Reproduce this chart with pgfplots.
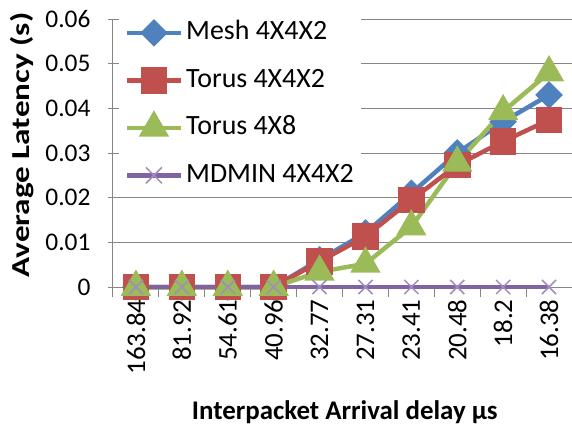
\documentclass[border=0pt]{standalone}
\usepackage{fontspec}
\setmainfont{Carlito}
\usepackage{pgfplots}
\pgfplotsset{compat=1.18}
\definecolor{sblue}{HTML}{4F81BD}
\definecolor{sred}{HTML}{C0504D}
\definecolor{sgreen}{HTML}{9BBB59}
\definecolor{spurple}{HTML}{8064A2}
\definecolor{spurplelt}{HTML}{A08CC0}
\definecolor{axgray}{HTML}{868686}
\begin{document}
\begin{tikzpicture}
\path[use as bounding box] (-113bp,-148bp) rectangle (459bp,287bp);
\begin{axis}[
  at={(0,0)}, anchor=south west,
  scale only axis, width=459bp, height=268bp,
  xmin=-0.5, xmax=9.5, ymin=0, ymax=0.06,
  clip=false,
  axis lines=left,
  axis line style={-, draw=axgray, line width=1bp},
  ytick={0,0.01,0.02,0.03,0.04,0.05,0.06},
  yticklabels={0,0.01,0.02,0.03,0.04,0.05,0.06},
  scaled y ticks=false,
  ymajorgrids,
  grid style={draw=axgray, line width=1bp},
  xtick={-0.5,0.5,1.5,2.5,3.5,4.5,5.5,6.5,7.5,8.5,9.5},
  xticklabels={},
  extra x ticks={0,1,2,3,4,5,6,7,8,9},
  extra x tick labels={163.84,81.92,54.61,40.96,32.77,27.31,23.41,20.48,18.2,16.38},
  extra x tick style={major tick length=0bp, grid=none},
  ytick align=center,
  xtick align=outside,
  major tick length=10bp,
  tick style={draw=axgray, line width=1bp},
  xticklabel shift=9bp,
  yticklabel shift=14bp,
  xticklabel style={rotate=90, anchor=east, font=\fontsize{27}{27}\selectfont, text=black},
  yticklabel style={font=\fontsize{25.5}{25.5}\selectfont, text=black},
  xlabel={Interpacket Arrival delay µs},
  ylabel={\scalebox{1.28}[1]{Average Latency (s)}},
  xlabel style={at={(axis description cs:0.505,-0.468)}, anchor=center, font=\bfseries\fontsize{27}{27}\selectfont},
  ylabel style={at={(axis description cs:-0.198,0.53)}, anchor=center, font=\bfseries\fontsize{26}{26}\selectfont},
  legend cell align=left,
  legend image code/.code={\draw[mark repeat=2, mark phase=2, #1] plot coordinates {(0bp,0bp) (27bp,0bp) (54bp,0bp)};},
  legend style={at={(axis description cs:0.012,1.02)}, anchor=north west,
    draw=none, fill=white, inner sep=6bp, row sep=21.5bp, column sep=2bp,
    font=\fontsize{28}{28}\selectfont,
    nodes={inner sep=1bp, text height=19bp, text depth=5bp}},
]
\addplot[color=sblue, line width=4.5bp, mark=square*, mark size=7.5bp, mark options={rotate=45, solid}]
  coordinates {(0,0) (1,0) (2,0) (3,0) (4,0.0061) (5,0.0121) (6,0.0210) (7,0.0300) (8,0.0370) (9,0.0430)};
\addlegendentry{Mesh 4X4X2}
\addplot[color=sred, line width=4.5bp, mark=square*, mark size=11bp, mark options={solid}]
  coordinates {(0,0) (1,0) (2,0) (3,0) (4,0.0057) (5,0.0113) (6,0.0195) (7,0.0273) (8,0.0326) (9,0.0374)};
\addlegendentry{Torus 4X4X2}
\addplot[color=sgreen, line width=4.5bp, mark=triangle*, mark size=13bp, mark options={solid}]
  coordinates {(0,0) (1,0) (2,0) (3,0) (4,0.0034) (5,0.0052) (6,0.0135) (7,0.0278) (8,0.0393) (9,0.0480)};
\addlegendentry{Torus 4X8}
\addplot[draw=spurple, line width=4.5bp, no marks, forget plot]
  coordinates {(0,0) (1,0) (2,0) (3,0) (4,0) (5,0) (6,0) (7,0) (8,0) (9,0)};
\addplot[only marks, draw=spurplelt, line width=1.5bp, mark=x, mark size=10bp,
  legend image code/.code={\draw[spurple, line width=4.5bp] (0bp,0bp) -- (54bp,0bp);
    \draw[spurplelt, line width=1.5bp] (19bp,-8bp) -- (35bp,8bp) (19bp,8bp) -- (35bp,-8bp);}]
  coordinates {(0,0) (1,0) (2,0) (3,0) (4,0) (5,0) (6,0) (7,0) (8,0) (9,0)};
\addlegendentry{MDMIN 4X4X2}
\end{axis}
\end{tikzpicture}
\end{document}
